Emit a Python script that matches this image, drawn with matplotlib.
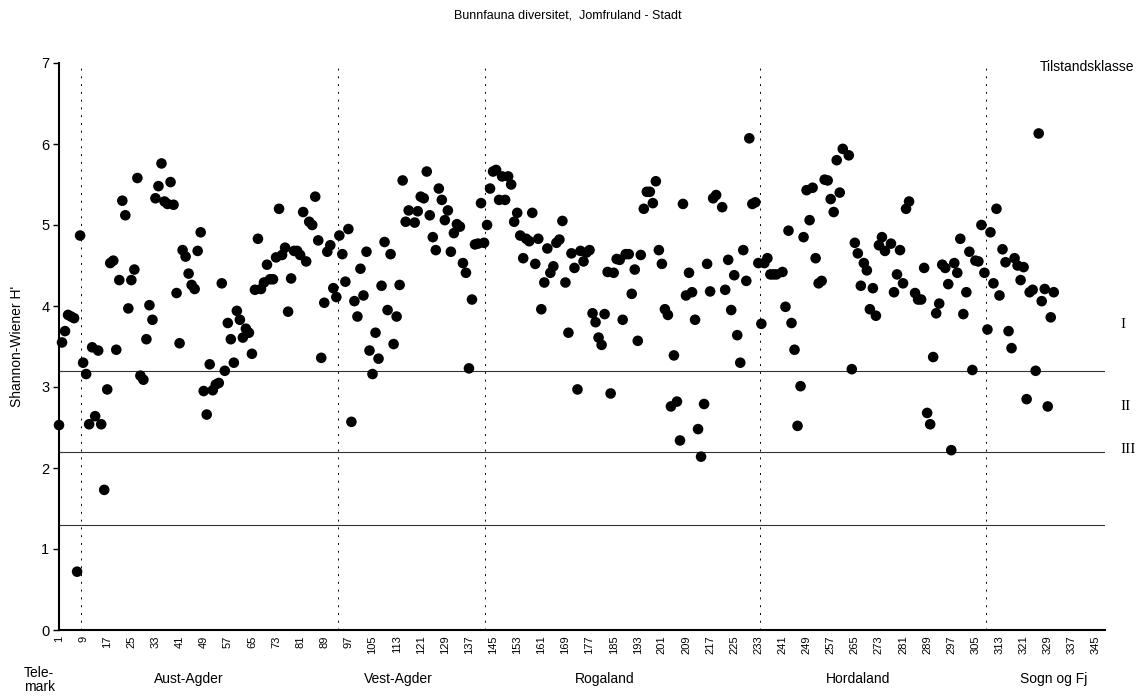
import numpy as np
import matplotlib
matplotlib.use("Agg")
import matplotlib.pyplot as plt
from matplotlib.transforms import blended_transform_factory

plt.rcParams["font.family"] = ["Liberation Sans", "DejaVu Sans"]

# Shannon-Wiener H' per station (station 1, 2, 3, ...), nan = no sample
shannon_h = [
    2.53, 3.55, 3.69, 3.89, 3.87, 3.85, 0.72, 4.87, 3.30, 3.16,
    2.54, 3.49, 2.64, 3.45, 2.54, 1.73, 2.97, 4.53, 4.56, 3.46,
    4.32, 5.30, 5.12, 3.97, 4.32, 4.45, 5.58, 3.14, 3.09, 3.59,
    4.01, 3.83, 5.33, 5.48, 5.76, 5.29, 5.26, 5.53, 5.25, 4.16,
    3.54, 4.69, 4.61, 4.40, 4.26, 4.21, 4.68, 4.91, 2.95, 2.66,
    3.28, 2.96, 3.03, 3.05, 4.28, 3.20, 3.79, 3.59, 3.30, 3.94,
    3.83, 3.61, 3.72, 3.67, 3.41, 4.20, 4.83, 4.21, 4.29, 4.51,
    4.33, 4.33, 4.60, 5.20, 4.63, 4.72, 3.93, 4.34, 4.68, 4.68,
    4.63, 5.16, 4.55, 5.04, 5.00, 5.35, 4.81, 3.36, 4.04, 4.67,
    4.75, 4.22, 4.11, 4.87, 4.64, 4.30, 4.95, 2.57, 4.06, 3.87,
    4.46, 4.13, 4.67, 3.45, 3.16, 3.67, 3.35, 4.25, 4.79, 3.95,
    4.64, 3.53, 3.87, 4.26, 5.55, 5.04, 5.18, np.nan, 5.03, 5.17,
    5.35, 5.33, 5.66, 5.12, 4.85, 4.69, 5.45, 5.31, 5.06, 5.18,
    4.67, 4.90, 5.01, 4.98, 4.53, 4.41, 3.23, 4.08, 4.76, 4.77,
    5.27, 4.78, 5.00, 5.45, 5.66, 5.68, 5.31, 5.60, 5.31, 5.60,
    5.50, 5.04, 5.15, 4.87, 4.59, 4.83, 4.80, 5.15, 4.52, 4.83,
    3.96, 4.29, 4.71, 4.41, 4.49, 4.78, 4.82, 5.05, 4.29, 3.67,
    4.65, 4.47, 2.97, 4.68, 4.55, 4.66, 4.69, 3.91, 3.80, 3.61,
    3.52, 3.90, 4.42, 2.92, 4.41, 4.58, 4.57, 3.83, 4.64, 4.64,
    4.15, 4.45, 3.57, 4.63, 5.20, 5.41, 5.41, 5.27, 5.54, 4.69,
    4.52, 3.96, 3.89, 2.76, 3.39, 2.82, 2.34, 5.26, 4.13, 4.41,
    4.17, 3.83, 2.48, 2.14, 2.79, 4.52, 4.18, 5.33, 5.37, np.nan,
    5.22, 4.20, 4.57, 3.95, 4.38, 3.64, 3.30, 4.69, 4.31, 6.07,
    5.26, 5.28, 4.53, 3.78, 4.53, 4.59, 4.39, 4.39, 4.39, np.nan,
    4.42, 3.99, 4.93, 3.79, 3.46, 2.52, 3.01, 4.85, 5.43, 5.06,
    5.46, 4.59, 4.28, 4.31, 5.56, 5.55, 5.32, 5.16, 5.80, 5.40,
    5.94, np.nan, 5.86, 3.22, 4.78, 4.65, 4.25, 4.53, 4.44, 3.96,
    4.22, 3.88, 4.75, 4.85, 4.68, np.nan, 4.77, 4.17, 4.39, 4.69,
    4.28, 5.20, 5.29, np.nan, 4.16, 4.08, 4.08, 4.47, 2.68, 2.54,
    3.37, 3.91, 4.03, 4.51, 4.47, 4.27, 2.22, 4.53, 4.41, 4.83,
    3.90, 4.17, 4.67, 3.21, 4.56, 4.55, 5.00, 4.41, 3.71, 4.91,
    4.28, 5.20, 4.13, 4.70, 4.54, 3.69, 3.48, 4.59, 4.50, 4.32,
    4.48, 2.85, 4.17, 4.20, 3.20, 6.13, 4.06, 4.21, 2.76, 3.86,
    4.17,
]
stations = np.arange(1, len(shannon_h) + 1)

# county borders (between stations) and county names
county_borders = [8.4, 93.5, 142.4, 233.4, 308.5]
county_names = ["Aust-Agder", "Vest-Agder", "Rogaland", "Hordaland", "Sogn og Fj"]
county_name_x = [44, 113.5, 182, 266, 331]

# class limits for Tilstandsklasse
class_limits = [3.2, 2.2, 1.3]
class_names = ["I", "II", "III"]
class_label_y = [3.77, 2.76, 2.23]

tick_stations = list(range(1, 346, 8))
n_categories = 348

fig = plt.figure(figsize=(11.36, 6.98), dpi=100)
ax = fig.add_axes([59 / 1136, 1 - 630 / 698, (1105 - 59) / 1136, (630 - 63) / 698])

for b in county_borders:
    ax.plot([b, b], [0, 7], color="black", lw=0.7, dashes=(2, 6))

for lim in class_limits:
    ax.axhline(lim, color="#333333", lw=0.8)

ax.scatter(stations, shannon_h, s=58, c="black", edgecolors="none", zorder=3, clip_on=False)

ax.set_xlim(1, n_categories)
ax.set_ylim(0, 7)
ax.set_yticks(range(0, 8))
ax.set_xticks(tick_stations)
ax.set_xticklabels([str(t) for t in tick_stations], rotation=90, fontsize=8)
ax.tick_params(axis="x", length=0, pad=4)
ax.tick_params(axis="y", length=4, width=1, labelsize=10.5, pad=3)
for side in ["top", "right"]:
    ax.spines[side].set_visible(False)
ax.spines["left"].set_linewidth(1.5)
ax.spines["bottom"].set_linewidth(1.5)

ax.set_ylabel("Shannon-Wiener H'", fontsize=10, labelpad=12)

fig.text(0.5, 1 - 15 / 698, "Bunnfauna diversitet,  Jomfruland - Stadt",
         ha="center", va="center", fontsize=9)
fig.text(1134 / 1136, 1 - 67 / 698, "Tilstandsklasse", ha="right", va="center", fontsize=10)

# roman numerals right of the plot: x in figure coords, y in data
numeral_trans = blended_transform_factory(fig.transFigure, ax.transData)
for name, yv in zip(class_names, class_label_y):
    ax.text(1120 / 1136, yv, name, transform=numeral_trans, fontsize=11,
            family="Liberation Serif", ha="left", va="center", clip_on=False)

# county labels below the axis
for name, xv in zip(county_names, county_name_x):
    xd = ax.transData.transform((xv, 0))[0] / fig.bbox.width
    fig.text(xd, 1 - 679 / 698, name, ha="center", va="center", fontsize=10)
fig.text(24 / 1136, 1 - 680 / 698, "Tele-\nmark", ha="left", va="center", fontsize=10,
         linespacing=1.0)

fig.savefig("out.png", dpi=100)
